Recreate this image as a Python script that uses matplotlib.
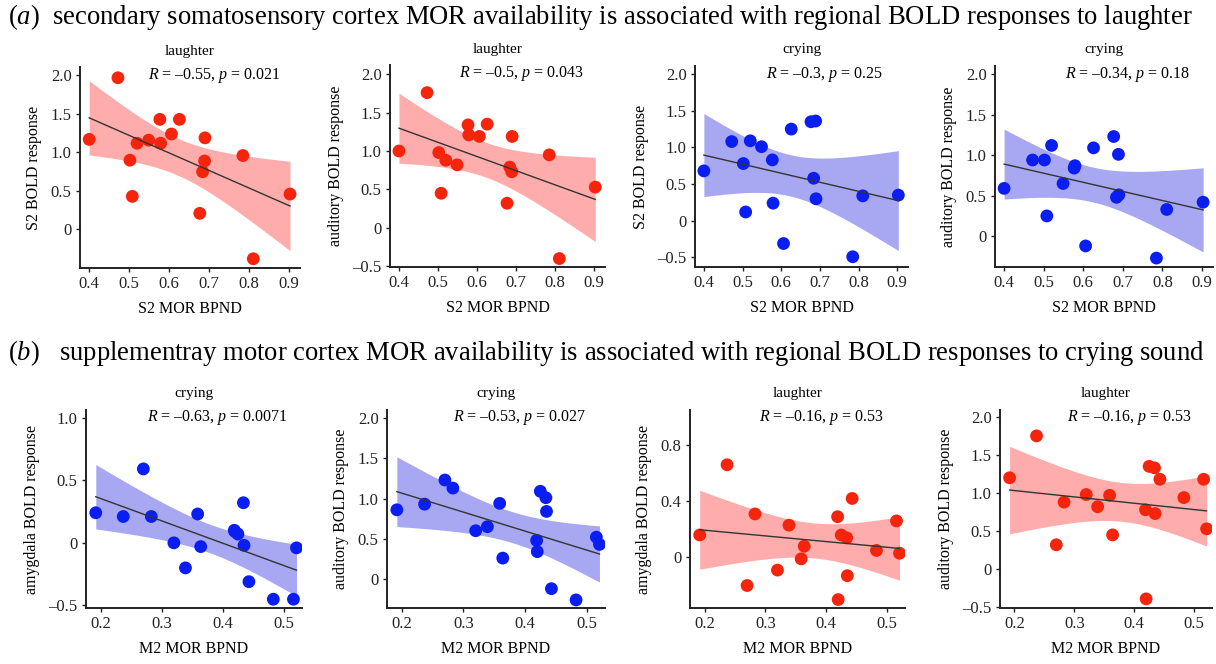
import numpy as np
import matplotlib.pyplot as plt

plt.rcParams['font.family'] = ['Liberation Serif', 'DejaVu Serif']
plt.rcParams['mathtext.fontset'] = 'custom'
plt.rcParams['mathtext.rm'] = 'Liberation Serif'
plt.rcParams['mathtext.it'] = 'Liberation Serif:italic'

# S2 MOR BPND (top row), M2 MOR BPND (bottom row)
x_s2 = [0.40, 0.472, 0.502, 0.508, 0.520, 0.549, 0.577, 0.579, 0.606, 0.626,
        0.677, 0.684, 0.689, 0.690, 0.785, 0.811, 0.903]
x_m2 = [0.192, 0.237, 0.270, 0.283, 0.320, 0.339, 0.359, 0.364, 0.419, 0.420,
        0.425, 0.434, 0.435, 0.443, 0.483, 0.516, 0.521]

s2_laugh = [1.17, 1.97, 0.90, 0.43, 1.12, 1.16, 1.43, 1.12, 1.24, 1.43,
            0.21, 0.75, 0.89, 1.19, 0.96, -0.38, 0.46]
aud_laugh_s2 = [1.00, 1.76, 0.98, 0.45, 0.88, 0.82, 1.34, 1.21, 1.19, 1.35,
                0.32, 0.79, 0.73, 1.19, 0.95, -0.40, 0.53]
s2_cry = [0.68, 1.08, 0.78, 0.12, 1.09, 1.01, 0.83, 0.24, -0.31, 1.25,
          1.35, 0.58, 1.36, 0.30, -0.49, 0.34, 0.35]
aud_cry_s2 = [0.59, 0.94, 0.94, 0.25, 1.12, 0.65, 0.84, 0.87, -0.12, 1.09,
              1.23, 0.48, 1.01, 0.51, -0.27, 0.33, 0.42]

amy_cry = [0.24, 0.21, 0.59, 0.21, 0.00, -0.20, 0.23, -0.03, 0.10, 0.09,
           0.07, 0.32, -0.02, -0.31, -0.45, -0.45, -0.04]
aud_cry_m2 = [0.86, 0.93, 1.23, 1.13, 0.60, 0.65, 0.94, 0.26, 0.48, 0.34,
              1.09, 1.01, 0.84, -0.12, -0.26, 0.52, 0.43]
amy_laugh = [0.16, 0.66, -0.20, 0.31, -0.09, 0.23, -0.01, 0.08, 0.29, -0.30,
             0.16, 0.14, -0.13, 0.42, 0.05, 0.26, 0.03]
aud_laugh_m2 = [1.20, 1.75, 0.32, 0.88, 0.98, 0.82, 0.97, 0.45, 0.78, -0.39,
                1.35, 1.33, 0.73, 1.18, 0.94, 1.18, 0.53]

T_CRIT = 2.131  # t(0.975, df=15)

RED, RED_BAND = '#f4250c', '#ffacac'
BLUE, BLUE_BAND = '#0a1ef2', '#a8a8f2'

panels = [
    # x, y, title, ylabel, xlabel, stats, colours, ylim, yticks, rect
    (x_s2, s2_laugh, 'laughter', 'S2 BOLD response', 'S2 MOR BPND', ('0.55', '0.021'),
     'r', (-0.50, 2.11), [0, 0.5, 1.0, 1.5, 2.0], (80, 67, 300, 268)),
    (x_s2, aud_laugh_s2, 'laughter', 'auditory BOLD response', 'S2 MOR BPND', ('0.5', '0.043'),
     'r', (-0.51, 2.12), [-0.5, 0, 0.5, 1.0, 1.5, 2.0], (390, 65, 605, 267)),
    (x_s2, s2_cry, 'crying', 'S2 BOLD response', 'S2 MOR BPND', ('0.3', '0.25'),
     'b', (-0.63, 2.11), [-0.5, 0, 0.5, 1.0, 1.5, 2.0], (695, 66, 908, 267)),
    (x_s2, aud_cry_s2, 'crying', 'auditory BOLD response', 'S2 MOR BPND', ('0.34', '0.18'),
     'b', (-0.38, 2.10), [0, 0.5, 1.0, 1.5, 2.0], (995, 66, 1213, 267)),
    (x_m2, amy_cry, 'crying', 'amygdala BOLD response', 'M2 MOR BPND', ('0.63', '0.0071'),
     'b', (-0.52, 1.06), [-0.5, 0, 0.5, 1.0], (86, 410, 302, 608)),
    (x_m2, aud_cry_m2, 'crying', 'auditory BOLD response', 'M2 MOR BPND', ('0.53', '0.027'),
     'b', (-0.36, 2.10), [0, 0.5, 1.0, 1.5, 2.0], (387, 410, 605, 608)),
    (x_m2, amy_laugh, 'laughter', 'amygdala BOLD response', 'M2 MOR BPND', ('0.16', '0.53'),
     'r', (-0.36, 1.05), [0, 0.4, 0.8], (690, 410, 905, 608)),
    (x_m2, aud_laugh_m2, 'laughter', 'auditory BOLD response', 'M2 MOR BPND', ('0.16', '0.53'),
     'r', (-0.51, 2.09), [-0.5, 0, 0.5, 1.0, 1.5, 2.0], (1000, 410, 1212, 608)),
]

W, H = 1216, 664
fig = plt.figure(figsize=(W / 100, H / 100), dpi=100)


def tick_fmt(v):
    if abs(v) < 1e-9:
        return '0'
    s = '%.1f' % abs(v)
    return ('\u2013' + s) if v < 0 else s


for x, y, title, ylab, xlab, stats, col, ylim, yticks, rect in panels:
    l, t, r, b = rect
    ax = fig.add_axes([l / W, 1 - b / H, (r - l) / W, (b - t) / H])
    x = np.array(x)
    y = np.array(y)
    pt_c, band_c = (RED, RED_BAND) if col == 'r' else (BLUE, BLUE_BAND)

    # linear fit with 95% confidence band
    n = len(x)
    slope, icpt = np.polyfit(x, y, 1)
    xs = np.linspace(x.min(), x.max(), 100)
    yhat = slope * xs + icpt
    resid = y - (slope * x + icpt)
    s = np.sqrt(np.sum(resid ** 2) / (n - 2))
    se = s * np.sqrt(1 / n + (xs - x.mean()) ** 2 / np.sum((x - x.mean()) ** 2))
    ax.fill_between(xs, yhat - T_CRIT * se, yhat + T_CRIT * se, color=band_c, lw=0, zorder=1)
    ax.scatter(x, y, s=85, color=pt_c, edgecolors='none', zorder=2)
    ax.plot(xs, yhat, color='#333333', lw=1.0, zorder=3)

    if xlab.startswith('S2'):
        ax.set_xlim(0.377, 0.928)
        xt = [0.4, 0.5, 0.6, 0.7, 0.8, 0.9]
    else:
        ax.set_xlim(0.176, 0.53)
        xt = [0.2, 0.3, 0.4, 0.5]
    ax.set_xticks(xt)
    ax.set_xticklabels([tick_fmt(v) for v in xt])
    ax.set_ylim(*ylim)
    ax.set_yticks(yticks)
    ax.set_yticklabels([tick_fmt(v) for v in yticks])

    for sp in ['top', 'right']:
        ax.spines[sp].set_visible(False)
    for sp in ['left', 'bottom']:
        ax.spines[sp].set_linewidth(1.4)
        ax.spines[sp].set_color('#222222')
    ax.tick_params(length=3, width=1, labelsize=12, colors='#222222', pad=3)
    ax.set_title(title, fontsize=11, pad=9)
    ax.set_ylabel(ylab, fontsize=11.5, labelpad=6)
    ax.set_xlabel(xlab, fontsize=11.5, labelpad=6)
    ax.text(0.61, 0.96, '$R$ = \u2013%s, $p$ = %s' % stats, transform=ax.transAxes,
            ha='center', va='center', fontsize=11.5)

fig.text(8 / W, 1 - 17 / H,
         '($a$)  secondary somatosensory cortex MOR availability is associated with regional BOLD responses to laughter',
         ha='left', va='center', fontsize=19.2)
fig.text(8 / W, 1 - 353 / H,
         '($b$)   supplementray motor cortex MOR availability is associated with regional BOLD responses to crying sound',
         ha='left', va='center', fontsize=19.2)

fig.savefig('out.png', dpi=100)
